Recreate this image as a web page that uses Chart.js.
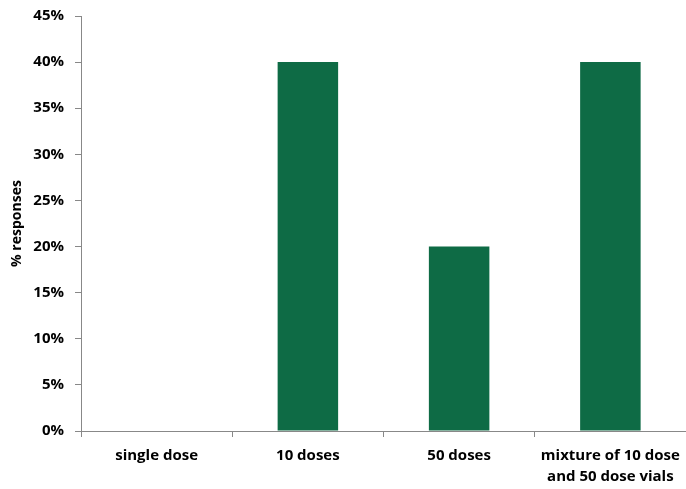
<!DOCTYPE html>
<html>
<head>
<meta charset="utf-8">
<script src="https://cdn.jsdelivr.net/npm/chart.js@4/dist/chart.umd.min.js"></script>
<style>
html,body{margin:0;padding:0;background:#fff;}
#wrap{width:686px;height:489px;}
</style>
</head>
<body>
<div id="wrap"><canvas id="c" width="686" height="489"></canvas></div>
<script>
const categories = ["single dose", "10 doses", "50 doses", ["mixture of 10 dose", "and 50 dose vials"]];
const responses = [0, 0.40, 0.20, 0.40];
const yTicks = [0, 0.05, 0.10, 0.15, 0.20, 0.25, 0.30, 0.35, 0.40, 0.45];

const font = {family: "'Open Sans', sans-serif", size: 15, weight: 'bold', lineHeight: 1.4};

new Chart(document.getElementById('c'), {
  type: 'bar',
  data: {
    labels: categories,
    datasets: [{
      data: responses,
      backgroundColor: '#0E6B45',
      borderWidth: 0,
      categoryPercentage: 0.8,
      barPercentage: 0.5
    }]
  },
  options: {
    responsive: false,
    animation: false,
    layout: {padding: {top: 16, right: 0, left: 9, bottom: 0}},
    plugins: {legend: {display: false}, tooltip: {enabled: false}},
    scales: {
      x: {
        offset: true,
        grid: {offset: true, drawOnChartArea: false, drawTicks: true, tickLength: 6, color: '#888'},
        border: {color: '#888', width: 1},
        ticks: {color: '#000', font: font, padding: 8, maxRotation: 0, autoSkip: false},
        afterFit: (s) => { s.height = 58; s.paddingLeft = 0; s.paddingRight = 0; }
      },
      y: {
        min: 0, max: 0.45,
        afterBuildTicks: (s) => { s.ticks = yTicks.map(v => ({value: v})); },
        grid: {drawOnChartArea: false, drawTicks: true, tickLength: 6, color: '#888'},
        border: {color: '#888', width: 1},
        ticks: {color: '#000', font: font, padding: 11,
          callback: (v) => Math.round(v * 100) + '%'},
        title: {display: true, text: '% responses', color: '#000',
          font: {family: "'Open Sans', sans-serif", size: 14, weight: 'bold'}, padding: {top: 0, bottom: 8}},
        afterFit: (s) => { s.width = 72; s.paddingTop = 0; s.paddingBottom = 0; }
      }
    }
  }
});
</script>
</body>
</html>
